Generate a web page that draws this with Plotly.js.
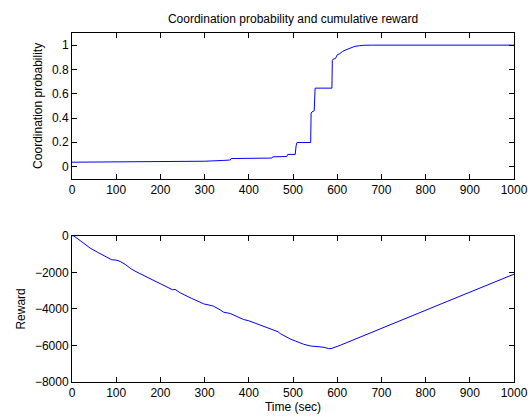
<!DOCTYPE html>
<html>
<head>
<meta charset="utf-8">
<script src="https://cdn.plot.ly/plotly-3.0.1.min.js"></script>
<style>html,body{margin:0;padding:0;background:#fff;}#chart{width:528px;height:416px;}</style>
</head>
<body>
<div id="chart"></div>
<script>
// Coordination probability (top panel)
const probTime = [0, 100, 200, 250, 300, 340, 358, 360, 400, 452, 454, 486, 488, 505, 507, 509, 540, 541, 543, 548, 550, 588, 589, 591, 596, 600, 606, 612, 620, 630, 640, 650, 660, 680, 700, 800, 900, 1000];
const probValue = [0.036, 0.037, 0.039, 0.041, 0.044, 0.05, 0.054, 0.066, 0.068, 0.07, 0.08, 0.083, 0.10, 0.10, 0.17, 0.198, 0.198, 0.44, 0.45, 0.46, 0.646, 0.646, 0.875, 0.885, 0.89, 0.92, 0.93, 0.948, 0.962, 0.978, 0.99, 0.995, 0.999, 1.0, 1.0, 1.0, 1.0, 1.0];

// Cumulative reward (bottom panel)
const rewardTime = [0, 4, 20, 41, 60, 75, 90, 100, 109, 120, 135, 147, 170, 200, 215, 228, 233, 245, 270, 298, 310, 320, 335, 343, 358, 375, 388, 400, 411, 426, 440, 456, 466, 471, 486, 495, 505, 524, 539, 548, 558, 570, 580, 586, 607, 671, 750, 850, 1000];
const rewardValue = [0, -10, -290, -674, -930, -1130, -1315, -1330, -1403, -1560, -1830, -1989, -2260, -2630, -2820, -2960, -2930, -3123, -3420, -3726, -3790, -3852, -4050, -4181, -4252, -4430, -4581, -4650, -4745, -4893, -5000, -5130, -5250, -5350, -5570, -5660, -5753, -5934, -6027, -6040, -6082, -6100, -6170, -6175, -5990, -5348, -4560, -3580, -2100];

const xTicks = [0, 100, 200, 300, 400, 500, 600, 700, 800, 900, 1000];
const probTicks = [0, 0.2, 0.4, 0.6, 0.8, 1];
const probTickText = ['0', '0.2', '0.4', '0.6', '0.8', '1'];
const rewardTicks = [-8000, -6000, -4000, -2000, 0];

const font = {family: 'Liberation Sans, Arial, sans-serif', size: 12, color: '#000'};

const axisBase = {
  showline: true, linecolor: '#000', linewidth: 1, mirror: 'ticks',
  ticks: 'inside', ticklen: 5, tickcolor: '#000', tickwidth: 1,
  showgrid: false, zeroline: false, tickfont: font
};

const traces = [
  {x: probTime, y: probValue, type: 'scatter', mode: 'lines', line: {color: '#0000ff', width: 1}, xaxis: 'x', yaxis: 'y', hoverinfo: 'none'},
  {x: rewardTime, y: rewardValue, type: 'scatter', mode: 'lines', line: {color: '#0000ff', width: 1}, xaxis: 'x2', yaxis: 'y2', hoverinfo: 'none'}
];

const layout = {
  width: 528, height: 416,
  margin: {l: 72, r: 14, t: 33, b: 34},
  paper_bgcolor: '#fff', plot_bgcolor: '#fff',
  showlegend: false,
  font: font,
  title: {text: 'Coordination probability and cumulative reward', font: font, xref: 'paper', x: 0.5, xanchor: 'center', y: 0.954, yanchor: 'middle'},
  xaxis: Object.assign({}, axisBase, {domain: [0, 1], range: [0, 1000], tickvals: xTicks, anchor: 'y'}),
  yaxis: Object.assign({}, axisBase, {domain: [0.5825, 1], range: [-0.1, 1.1], tickvals: probTicks, ticktext: probTickText, anchor: 'x',
    title: {text: 'Coordination probability', font: font, standoff: 6}}),
  xaxis2: Object.assign({}, axisBase, {domain: [0, 1], range: [0, 1000], tickvals: xTicks, anchor: 'y2',
    title: {text: 'Time (sec)', font: font, standoff: 0}}),
  yaxis2: Object.assign({}, axisBase, {domain: [0, 0.419], range: [-8000, 0], tickvals: rewardTicks, anchor: 'x2',
    title: {text: 'Reward', font: font, standoff: 6}})
};

Plotly.newPlot('chart', traces, layout, {staticPlot: true, displayModeBar: false});
</script>
</body>
</html>
